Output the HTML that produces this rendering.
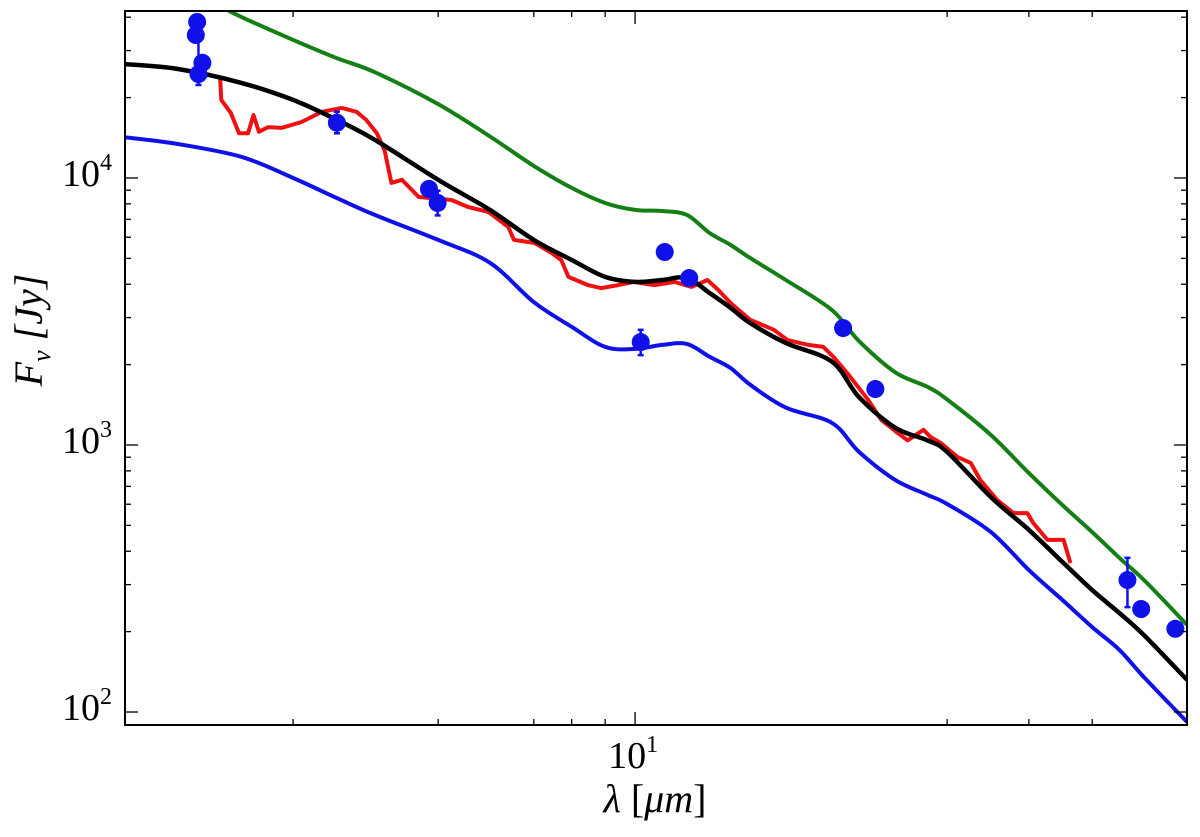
<!DOCTYPE html>
<html><head><meta charset="utf-8">
<style>
html,body{margin:0;padding:0;background:#fff;}
svg{display:block;font-family:"Liberation Serif",serif;}
</style></head>
<body>
<svg id="chart" width="1200" height="837" viewBox="0 0 1200 837" xmlns="http://www.w3.org/2000/svg">
  <defs><clipPath id="plotclip"><rect x="125" y="11" width="1062" height="714"/></clipPath></defs>
  <g id="marks" clip-path="url(#plotclip)"></g>
  <g id="axes"></g>
  <text x="655" y="812" font-size="40" text-anchor="middle"><tspan font-style="italic">λ</tspan> [<tspan font-style="italic">μm</tspan>]</text>
  <text transform="translate(42,330) rotate(-90)" font-size="40" text-anchor="middle" font-style="italic">F<tspan font-size="26" dy="8">ν</tspan><tspan dy="-8"> [Jy]</tspan></text>
</svg>
<script>
// ---- data ----
const modelLam = [1.66,2,2.5,3,3.5,4,5,6,7,8,9,10,11,12,13,14,15,17,20,22,25,28,30,35,40,45,50,55,60,69.8];
const blackFlux = [26700,25600,22700,19600,16500,13900,9840,7590,5860,4930,4260,4080,4150,4220,3710,3260,2860,2410,2050,1510,1160,1040,942,638,481,365,286,235,194,132];
const blueFlux = [14200,13400,12000,10000,8410,7270,5860,4810,3430,2770,2330,2290,2370,2390,2140,1940,1680,1380,1210,942,739,650,601,472,340,263,208,171,135,91.8];
const greenLam = [2.3,2.5,3,3.5,4,5,6,7,8,9,10,11,12,13,14,15,17,20,22,25,28,30,35,40,45,50,55,60,69.8];
const greenFlux = [44500,40100,32900,28100,24900,18900,14300,11100,9180,8060,7590,7520,7270,6220,5610,5010,4150,3200,2450,1870,1650,1480,1090,785,596,472,378,312,212];
const specLam = [2.32,2.33,2.41,2.48,2.56,2.61,2.66,2.75,2.88,3.09,3.32,3.56,3.75,3.88,4.03,4.14,4.24,4.40,4.67,5.24,5.56,5.97,6.40,6.53,7.02,7.45,7.71,7.91,8.47,8.87,9.42,9.96,10.7,11.5,12.2,12.9,13.4,14.0,15.0,16.3,17.1,18.4,19.4,20.1,21.1,22.7,23.8,25.2,26.1,27.6,28.3,29.3,31.1,32.6,33.7,35.8,37.9,39.8,40.6,42.7,45.2,46.3];
const specFlux = [23700,19600,17500,14700,14700,17200,14900,15500,15400,16200,17700,18300,17700,16500,14700,12700,9580,9840,8490,8270,7780,7460,6550,5860,5710,5240,4930,4260,3970,3870,3970,4080,3970,4080,3910,4150,3810,3400,2940,2700,2470,2370,2330,2140,1860,1480,1240,1110,1040,1140,1070,1020,902,857,740,622,556,556,511,441,441,361];
const obsLam = [2.14,2.13,2.18,2.15,3.50,4.84,4.99,11.1,12.1,10.2,20.8,23.3,56.6,59.4,67.0];
const obsFlux = [38400,34300,27000,24500,16100,9100,8060,5280,4220,2430,2740,1620,312,243,205];
const obsErrHi = [38400,34300,27000,34300,17700,9100,8960,5280,4220,2700,2740,1620,378,243,205];
const obsErrLo = [38400,34300,27000,22300,14700,9100,7240,5280,4220,2170,2740,1620,247,243,205];
const xMinorTicks = [3,5,7,8,9,30,40,50];
const yMinorTicks = [200,300,400,500,600,700,800,900,2000,3000,4000,5000,6000,7000,8000,9000,20000,30000,40000];
const xMajor = [10];
const xMajorLabels = ["1"];
const yMajor = [100,1000,10000];
const yMajorLabels = ["2","3","4"];

// ---- axes ----
const X0=125,X1=1187,Y0=11,Y1=725;
const xLo=1.66, xHi=69.8, yLo=89.4, yHi=42200;
function sx(v){return X0+(Math.log10(v)-Math.log10(xLo))/(Math.log10(xHi)-Math.log10(xLo))*(X1-X0);}
function sy(v){return Y1-(Math.log10(v)-Math.log10(yLo))/(Math.log10(yHi)-Math.log10(yLo))*(Y1-Y0);}
const NS="http://www.w3.org/2000/svg";
const marks=document.getElementById('marks'), axes=document.getElementById('axes');
function mk(tag,attrs,parent){const e=document.createElementNS(NS,tag);for(const k in attrs)e.setAttribute(k,attrs[k]);parent.appendChild(e);return e;}
function pathOf(xs,ys){return xs.map((x,i)=>(i?'L':'M')+sx(x).toFixed(1)+','+sy(ys[i]).toFixed(1)).join(' ');}
function smoothPath(xs,ys){
  const P=xs.map((x,i)=>[sx(x),sy(ys[i])]);
  let d='M'+P[0][0].toFixed(1)+','+P[0][1].toFixed(1);
  for(let i=0;i<P.length-1;i++){
    const p0=P[Math.max(0,i-1)],p1=P[i],p2=P[i+1],p3=P[Math.min(P.length-1,i+2)];
    const c1=[p1[0]+(p2[0]-p0[0])/6,p1[1]+(p2[1]-p0[1])/6];
    const c2=[p2[0]-(p3[0]-p1[0])/6,p2[1]-(p3[1]-p1[1])/6];
    d+=' C'+c1[0].toFixed(1)+','+c1[1].toFixed(1)+' '+c2[0].toFixed(1)+','+c2[1].toFixed(1)+' '+p2[0].toFixed(1)+','+p2[1].toFixed(1);
  }
  return d;
}

let p;
p=mk('path',{d:smoothPath(greenLam,greenFlux),fill:'none',stroke:'#157f15','stroke-width':4,'stroke-linejoin':'round'},marks);


p=mk('path',{d:smoothPath(modelLam,blueFlux),fill:'none',stroke:'#1010e8','stroke-width':4,'stroke-linejoin':'round'},marks);


p=mk('path',{d:pathOf(specLam,specFlux),fill:'none',stroke:'#ee1111','stroke-width':4,'stroke-linejoin':'round'},marks);


p=mk('path',{d:smoothPath(modelLam,blackFlux),fill:'none',stroke:'#000','stroke-width':4.5,'stroke-linejoin':'round'},marks);



obsLam.forEach((l,i)=>{
  const x=sx(l);
  if(obsErrHi[i]!==obsErrLo[i]){
    const eb=mk('line',{x1:x,x2:x,y1:sy(obsErrHi[i]),y2:sy(obsErrLo[i]),stroke:'#1010e8','stroke-width':2.5},marks);
    
    
    [obsErrHi[i],obsErrLo[i]].forEach(v=>{
      const cap=mk('line',{x1:x-3,x2:x+3,y1:sy(v),y2:sy(v),stroke:'#1010e8','stroke-width':2.5},marks);
      
      
    });
  }
  const c=mk('circle',{cx:x,cy:sy(obsFlux[i]),r:9,fill:'#1010e8'},marks);
  
  
});

// frame
const fr=mk('rect',{x:X0,y:Y0,width:X1-X0,height:Y1-Y0,fill:'none',stroke:'#000','stroke-width':2},axes);


function tick(x1,y1,x2,y2,name){const t=mk('line',{x1,y1,x2,y2,stroke:'#000','stroke-width':1.3},axes);}
xMinorTicks.forEach(v=>{const x=sx(v);tick(x,Y1,x,Y1-6,'x-minor-tick');tick(x,Y0,x,Y0+6,'x-minor-tick');});
xMajor.forEach((v,i)=>{const x=sx(v);tick(x,Y1,x,Y1-13,'x-major-tick');tick(x,Y0,x,Y0+13,'x-major-tick');
  const t=mk('text',{x:x-2,y:Y1+43,'font-size':38,'text-anchor':'middle'},axes);
  
  
  t.innerHTML='10<tspan font-size="24" dy="-16">'+xMajorLabels[i]+'</tspan>';});
yMinorTicks.forEach(v=>{const y=sy(v);if(y<Y0||y>Y1)return;tick(X0,y,X0+6,y,'y-minor-tick');tick(X1,y,X1-6,y,'y-minor-tick');});
yMajor.forEach((v,i)=>{const y=sy(v);tick(X0,y,X0+13,y,'y-major-tick');tick(X1,y,X1-13,y,'y-major-tick');
  const t=mk('text',{x:62,y:y+8,'font-size':38},axes);
  
  
  t.innerHTML='10<tspan font-size="24" dy="-16">'+yMajorLabels[i]+'</tspan>';});
</script>
</body></html>
